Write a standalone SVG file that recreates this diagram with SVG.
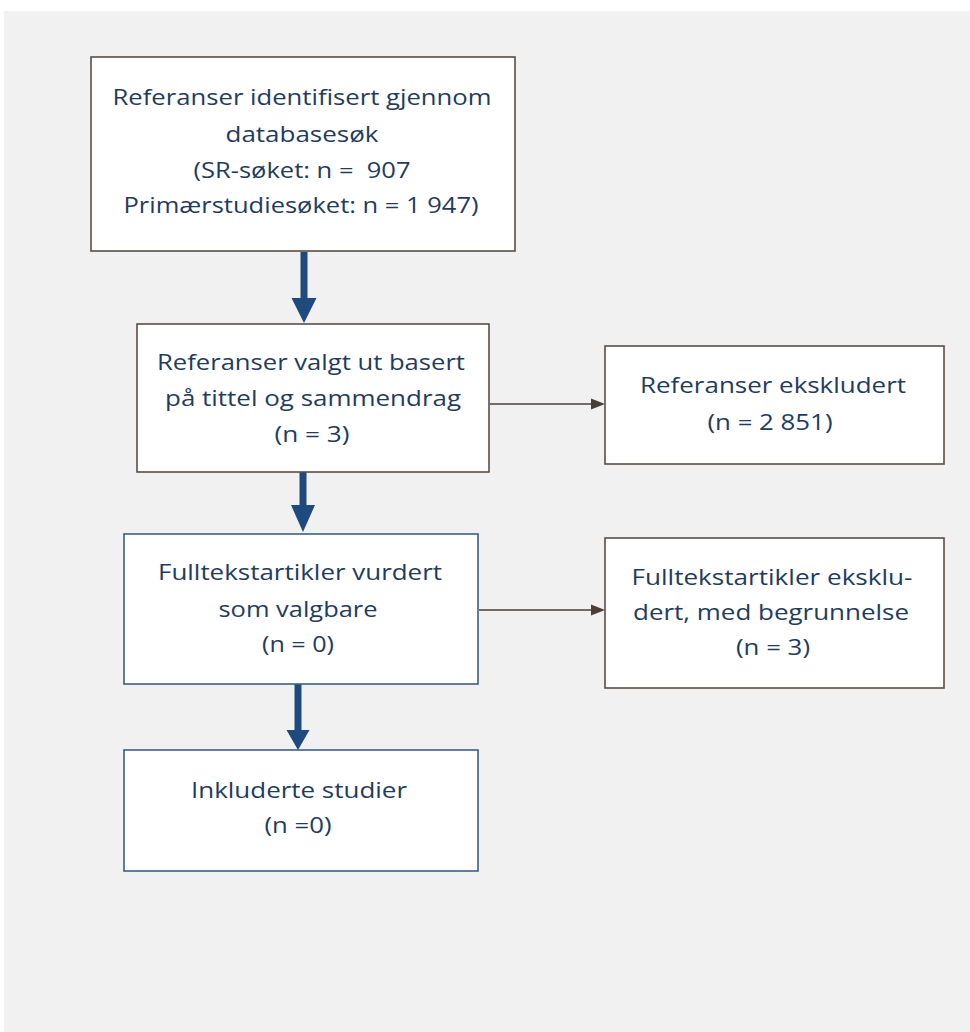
<svg xmlns="http://www.w3.org/2000/svg" width="970" height="1032" viewBox="0 0 970 1032">
<style>
.box{fill:#ffffff;stroke:#5a4e46;stroke-width:1.6}
.boxb{fill:#ffffff;stroke:#3e5e86;stroke-width:1.6}
.t{font-family:"Open Sans","Noto Sans",sans-serif;font-size:22px;fill:#1f3c60;text-anchor:middle}
.thick{stroke:#1f4a7e;stroke-width:7;fill:none}
.head{fill:#1f4a7e}
.thin{stroke:#4a3e36;stroke-width:1.5;fill:none}
.thead{fill:#4a3e36}
</style>
<rect x="4" y="11" width="966" height="1021" fill="#f1f1f1"/>
<g id="connectors">
<line class="thick" x1="304" y1="252" x2="304" y2="300"/>
<polygon class="head" points="291.5,298 316.5,298 304,323"/>
<line class="thick" x1="303" y1="472" x2="303" y2="507"/>
<polygon class="head" points="291,505 315,505 303,532"/>
<line class="thick" x1="298" y1="684" x2="298" y2="732"/>
<polygon class="head" points="286.5,730 309.5,730 298,750"/>
<line class="thin" x1="490" y1="404" x2="595" y2="404"/>
<polygon class="thead" points="591,398.5 605,404 591,409.5"/>
<line class="thin" x1="479" y1="610" x2="595" y2="610"/>
<polygon class="thead" points="591,604.5 605,610 591,615.5"/>
</g>
<g id="node1">
<rect class="box" x="91" y="57" width="424" height="194"/>
<text class="t" x="302" y="105" textLength="379" lengthAdjust="spacingAndGlyphs">Referanser identifisert gjennom</text>
<text class="t" x="302" y="142" textLength="153" lengthAdjust="spacingAndGlyphs">databasesøk</text>
<text class="t" x="302" y="178" textLength="217" lengthAdjust="spacingAndGlyphs">(SR-søket: n =&#160; 907</text>
<text class="t" x="301" y="213" textLength="355" lengthAdjust="spacingAndGlyphs">Primærstudiesøket: n = 1 947)</text>
</g>
<g id="node2">
<rect class="box" x="137" y="324" width="352" height="148"/>
<text class="t" x="311" y="370" textLength="308" lengthAdjust="spacingAndGlyphs">Referanser valgt ut basert</text>
<text class="t" x="313" y="406" textLength="296" lengthAdjust="spacingAndGlyphs">på tittel og sammendrag</text>
<text class="t" x="312" y="442" textLength="75" lengthAdjust="spacingAndGlyphs">(n = 3)</text>
</g>
<g id="node3">
<rect class="box" x="605" y="346" width="339" height="118"/>
<text class="t" x="773" y="393" textLength="266" lengthAdjust="spacingAndGlyphs">Referanser ekskludert</text>
<text class="t" x="770" y="430" textLength="125" lengthAdjust="spacingAndGlyphs">(n = 2 851)</text>
</g>
<g id="node4">
<rect class="boxb" x="124" y="534" width="354" height="150"/>
<text class="t" x="300" y="580" textLength="284" lengthAdjust="spacingAndGlyphs">Fulltekstartikler vurdert</text>
<text class="t" x="298" y="617" textLength="159" lengthAdjust="spacingAndGlyphs">som valgbare</text>
<text class="t" x="298" y="652" textLength="72" lengthAdjust="spacingAndGlyphs">(n = 0)</text>
</g>
<g id="node5">
<rect class="box" x="605" y="538" width="339" height="150"/>
<text class="t" x="772" y="585" textLength="281" lengthAdjust="spacingAndGlyphs">Fulltekstartikler eksklu-</text>
<text class="t" x="771" y="620" textLength="276" lengthAdjust="spacingAndGlyphs">dert, med begrunnelse</text>
<text class="t" x="773" y="655" textLength="74" lengthAdjust="spacingAndGlyphs">(n = 3)</text>
</g>
<g id="node6">
<rect class="boxb" x="124" y="750" width="354" height="121"/>
<text class="t" x="299" y="798" textLength="216" lengthAdjust="spacingAndGlyphs">Inkluderte studier</text>
<text class="t" x="298" y="833" textLength="67" lengthAdjust="spacingAndGlyphs">(n =0)</text>
</g>
</svg>
